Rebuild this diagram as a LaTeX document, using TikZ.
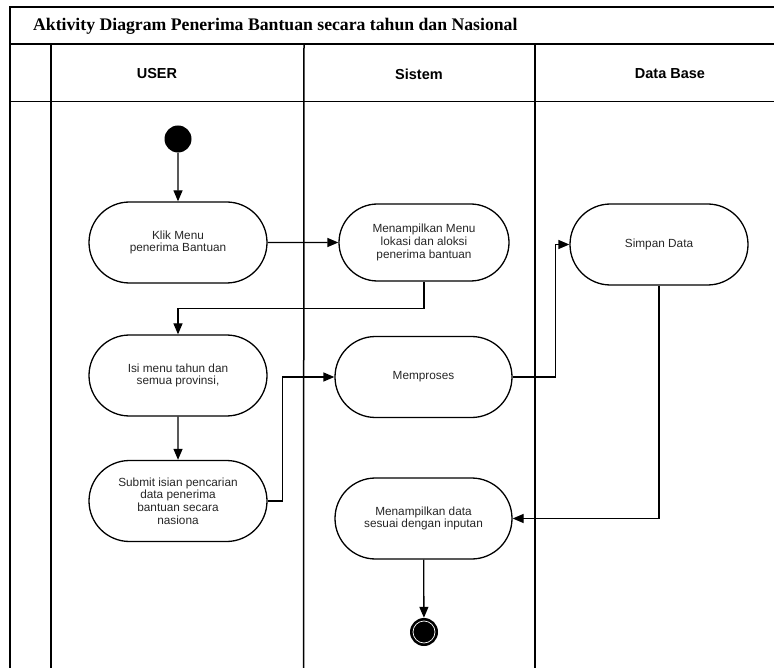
\documentclass[tikz,border=0pt]{standalone}
\usepackage{fontspec}
\setmainfont{Liberation Sans}
\newfontfamily\titlefont{Liberation Serif}
\usetikzlibrary{arrows.meta,shapes.misc}
\begin{document}
\begin{tikzpicture}[x=1pt,y=-1pt,
  act/.style={rounded rectangle, draw, line width=1.3pt, minimum width=178pt, minimum height=81pt,
    inner sep=0pt, align=center, text=black!85, font=\fontsize{11.8}{12.6}\selectfont},
  arr/.style={-{Triangle[length=11pt,width=9pt]}, line width=1.3pt},
  lane/.style={line width=1.5pt},
  hdr/.style={font=\bfseries\fontsize{14.5}{16}\selectfont}]
\useasboundingbox (0,0) rectangle (774,668);
% frame and lanes
\draw[lane] (774,7) -- (10,7) -- (10,668);
\draw[lane] (10,44) -- (774,44);
\draw[lane] (10,101.5) -- (774,101.5);
\draw[lane] (51,44) -- (51,668);
\draw[lane] (304,44) -- (303.5,668);
\draw[lane] (535,44) -- (535,668);
% title and headers
\node[anchor=base west, inner sep=0pt, font=\titlefont\bfseries\fontsize{17.7}{20}\selectfont] (title) at (33,31) {Aktivity Diagram Penerima Bantuan secara tahun dan Nasional};
\node[hdr] (huser) at (157,74) {USER};
\node[hdr] (hsis) at (419,74) {Sistem};
\node[hdr] (hdb) at (670,74) {Data Base};
% nodes
\node[circle, fill=black, minimum size=27pt, inner sep=0pt] (start) at (178,139) {};
\node[act] (n1) at (178,242.5) {Klik Menu\\penerima Bantuan};
\node[act, minimum width=170pt, minimum height=77pt] (n2) at (424,242.5) {Menampilkan Menu\\lokasi dan aloksi\\penerima bantuan};
\node[act] (n3) at (659,244.5) {Simpan Data};
\node[act] (n4) at (178,375.5) {Isi menu tahun dan\\semua provinsi,};
\node[act] (n5) at (178,501) {Submit isian pencarian\\data penerima\\bantuan secara\\nasiona};
\node[act, minimum width=177pt] (mem) at (423.5,377) {Memproses};
\node[act, minimum width=177pt] (n7) at (423.5,518.5) {Menampilkan data\\sesuai dengan inputan};
\node[circle, fill=black, minimum size=28pt, inner sep=0pt] (end) at (424,632) {};
\draw[white, line width=0.7pt] (end.center) circle (11pt);
% connectors
\draw[arr] (start) -- (n1);
\draw[arr] (n1) -- (n2);
\draw[arr] (n2.south) -- ++(0,27) -| (n4.north);
\draw[arr] (n4) -- (n5);
\draw[arr] (n5.east) -- ++(15,0) |- (mem.west);
\draw[arr] (mem.east) -- ++(43,0) |- (n3.west);
\draw[arr] (n3.south) |- (n7.east);
\draw[arr] (n7) -- (end);
\end{tikzpicture}
\end{document}
